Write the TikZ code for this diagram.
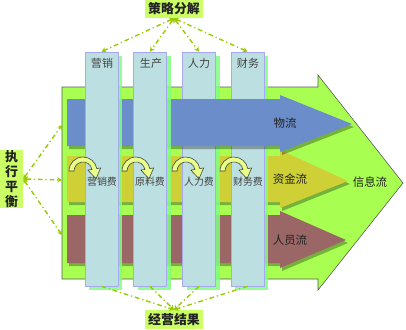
\documentclass[tikz,border=0pt]{standalone}
\usepackage{fontspec}
\setmainfont{Noto Sans CJK SC}
\usetikzlibrary{arrows.meta,shadows}
\definecolor{limebg}{HTML}{A8FF52}
\definecolor{flowblue}{HTML}{6B8DC9}
\definecolor{flowgold}{HTML}{CFCF36}
\definecolor{flowbrown}{HTML}{9B6666}
\definecolor{colfill}{HTML}{BCDFE2}
\definecolor{colline}{HTML}{A8A8F0}
\definecolor{colshade}{HTML}{80FF80}
\definecolor{tagfill}{HTML}{CCFF66}
\definecolor{linkgreen}{HTML}{99CC00}
\definecolor{turnfill}{HTML}{E8FF88}
\definecolor{inktext}{HTML}{222222}
\tikzset{
  bigarrow/.style={fill=limebg,draw=black!65,line width=0.5pt},
  flowarrow/.style={drop shadow={shadow xshift=0.6mm,shadow yshift=-0.9mm,fill=black,opacity=0.3}},
  colbar/.style={rectangle,draw=colline,fill=colfill,line width=0.6pt,
    minimum width=9.9mm,minimum height=70.2mm,inner sep=0pt,
    drop shadow={shadow xshift=1.2mm,shadow yshift=-1.2mm,fill=colshade,opacity=0.85}},
  collabel/.style={text=inktext!85,font=\fontsize{9.4}{10}\selectfont},
  feelabel/.style={text=inktext!85,font=\fontsize{8.5}{9}\selectfont},
  flowlabel/.style={text=inktext,font=\fontsize{9.8}{11}\selectfont},
  tagbox/.style={rectangle,fill=tagfill,inner sep=0pt,text=inktext,
    font=\fontsize{11}{13}\selectfont\bfseries},
  turnarrow/.style={fill=turnfill,draw=black!75,line width=0.5pt},
  linkedge/.style={linkgreen,line width=1.2pt,
    dash pattern=on 4pt off 2.5pt on 1pt off 2.5pt},
  tip/.style={-{Stealth[length=4pt,width=4.5pt]}},
  twotip/.style={{Stealth[length=4pt,width=4.5pt]}-{Stealth[length=4pt,width=4.5pt]}},
}
\begin{document}
\begin{tikzpicture}[x=0.3mm,y=-0.3mm]
  \useasboundingbox (0,0) rectangle (406,329);
  % big arrow
  \draw[bigarrow] (62,87) -- (318,87) -- (318,75) -- (403,183) -- (318,290)
    -- (318,279) -- (62,279) -- cycle;
  \coordinate (inU) at (62,125);
  \coordinate (inM) at (62,180);
  \coordinate (inD) at (62,235);
  % money and staff flows
  \fill[flowgold,flowarrow] (67,156) -- (280,156) -- (280,150) -- (348,181)
    -- (280,208) -- (280,202) -- (67,202) -- cycle;
  \fill[flowbrown,flowarrow] (67,215) -- (280,215) -- (280,211) -- (346,240)
    -- (280,268) -- (280,263) -- (67,263) -- cycle;
  % columns
  \node[colbar] (rl) at (199,169) {};
  \node[colbar] (cw) at (247.5,169) {};
  \fill[flowblue,flowarrow] (67,99) -- (280,99) -- (280,95) -- (352,124)
    -- (280,152) -- (280,146) -- (67,146) -- cycle;
  \node[colbar] (yx) at (101.5,169) {};
  \node[colbar] (sc) at (150,169) {};
  \node[collabel] (yxt) at (102,63) {营销};
  \node[collabel] (sct) at (151,63) {生产};
  \node[collabel] (rlt) at (199,63) {人力};
  \node[collabel] (cwt) at (248,63) {财务};
  % turn arrows
  \foreach \cx in {83,136,186,234}
    \filldraw[turnarrow,shift={(\cx,171)}] (-14,0) arc[start angle=180,end angle=350,radius=14]
      -- (17.7,-3.1) -- (13,7.8) -- (4.9,-0.9) -- (8.9,-1.6)
      arc[start angle=350,end angle=180,radius=9] -- cycle;
  \node[feelabel] (yxf) at (102,182) {营销费};
  \node[feelabel] (scf) at (150,182) {原料费};
  \node[feelabel] (rlf) at (199,182) {人力费};
  \node[feelabel] (cwf) at (248,182) {财务费};
  \node[flowlabel] (wl) at (285,123) {物流};
  \node[flowlabel] (zj) at (290,179) {资金流};
  \node[flowlabel] (ry) at (290,240) {人员流};
  \node[flowlabel] (xx) at (370,182) {信息流};
  % tags
  \node[tagbox,minimum width=17.4mm,minimum height=5.4mm] (cl) at (174,9) {策略分解};
  \node[tagbox,minimum width=17.4mm,minimum height=5.7mm] (jg) at (174,319.5) {经营结果};
  \node[tagbox,minimum width=6.9mm,minimum height=15.6mm,align=center] (zx) at (11.5,179)
    {执\\行\\平\\衡};
  % links
  \foreach \c in {yx,sc,rl,cw} {
    \draw[linkedge,twotip] (cl.south) -- (\c.north);
    \draw[linkedge,tip] (\c.south) -- (jg.north);
  }
  \foreach \p in {inU,inM,inD}
    \draw[linkedge,twotip] (zx.east) -- (\p);
\end{tikzpicture}
\end{document}
